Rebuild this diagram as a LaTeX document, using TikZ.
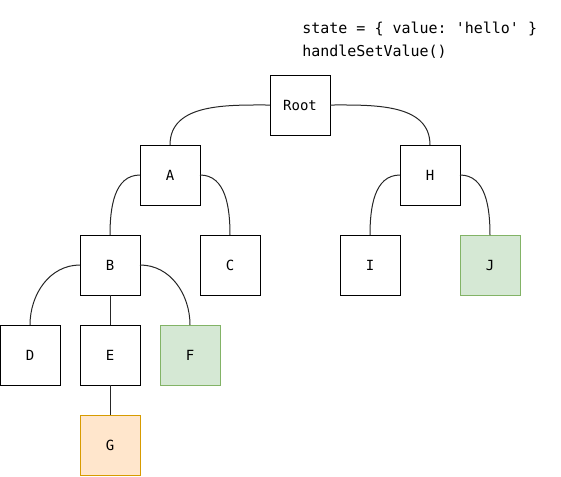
\documentclass[tikz,border=0pt]{standalone}
\usepackage{fontspec}
\setmonofont{DejaVu Sans Mono}
\usepackage{tikz}
\usetikzlibrary{positioning}
\definecolor{greenfill}{HTML}{D5E8D4}
\definecolor{greenline}{HTML}{82B366}
\definecolor{orangefill}{HTML}{FFE6CC}
\definecolor{orangeline}{HTML}{D79B00}

\begin{document}
\begin{tikzpicture}[every node/.style={font=\ttfamily\fontsize{10.5}{16.5}\selectfont}, box/.style={draw, line width=0.75pt, minimum width=45pt, minimum height=45pt, inner sep=0pt, outer sep=0pt, fill=white}, green/.style={box, draw=greenline, fill=greenfill}, orange/.style={box, draw=orangeline, fill=orangefill}, link/.style={line width=0.75pt, draw=black!85}]
\useasboundingbox (0,0) rectangle (420.75pt,-357pt);
\node[box] (root) at (225pt,-78.75pt) {Root};
\node[box,below left=7.5pt and 52.5pt of root] (a) {A};
\node[box,below right=7.5pt and 52.5pt of root] (h) {H};
\node[box,below left=22.5pt and 0pt of a] (b) {B};
\node[box,below right=22.5pt and 0pt of a] (c) {C};
\node[box,below left=22.5pt and 0pt of h] (i) {I};
\node[green,below right=22.5pt and 0pt of h] (j) {J};
\node[box,below=22.5pt of b] (e) {E};
\node[box,below left=22.5pt and 15pt of b] (d) {D};
\node[green,below right=22.5pt and 15pt of b] (f) {F};
\node[orange,below=22.5pt of e] (g) {G};
\node[align=left, inner sep=0pt, font=\ttfamily\fontsize{11.25}{17}\selectfont, above right=12.5pt and 1.5pt of root.north] (state) {state = \{ value: 'hello' \}\\handleSetValue()};
\draw[link] (root.west) to[out=180,in=90] (a.north);
\draw[link] (root.east) to[out=0,in=90] (h.north);
\draw[link] (a.west) to[out=180,in=90] (b.north);
\draw[link] (a.east) to[out=0,in=90] (c.north);
\draw[link] (h.west) to[out=180,in=90] (i.north);
\draw[link] (h.east) to[out=0,in=90] (j.north);
\draw[link] (b.west) to[out=180,in=90] (d.north);
\draw[link] (b) -- (e);
\draw[link] (b.east) to[out=0,in=90] (f.north);
\draw[link] (e) -- (g);
\end{tikzpicture}
\end{document}
